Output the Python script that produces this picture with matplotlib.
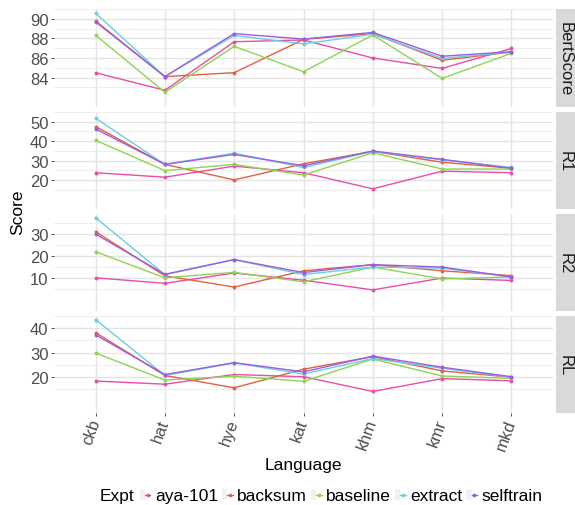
import matplotlib
matplotlib.use("Agg")
import matplotlib.pyplot as plt
from matplotlib.lines import Line2D
from matplotlib.patches import Patch
from matplotlib.legend_handler import HandlerTuple
import numpy as np

plt.rcParams['font.family'] = ['Liberation Sans', 'DejaVu Sans']

langs = ['ckb', 'hat', 'hye', 'kat', 'khm', 'kmr', 'mkd']
expts = ['aya-101', 'backsum', 'baseline', 'extract', 'selftrain']
colors = ['#E84EA6', '#E2603F', '#8ED452', '#6ACDE0', '#9B5DE3']
metrics = ['BertScore', 'R1', 'R2', 'RL']

bertscore = {
    'aya-101':   [84.5, 82.7, 87.66, 87.84, 86.0, 84.94, 86.97],
    'backsum':   [89.78, 84.1, 84.5, 87.9, 88.5, 85.77, 86.6],
    'baseline':  [88.33, 82.5, 87.19, 84.6, 88.35, 83.92, 86.48],
    'extract':   [90.58, 84.1, 88.3, 87.44, 88.43, 85.96, 86.6],
    'selftrain': [89.69, 84.1, 88.49, 87.93, 88.61, 86.18, 86.64],
}
r1 = {
    'aya-101':   [23.7, 21.4, 27.1, 23.7, 15.4, 24.5, 23.7],
    'backsum':   [47.5, 28.0, 20.0, 28.3, 34.7, 29.1, 26.0],
    'baseline':  [40.4, 24.8, 28.0, 22.5, 34.0, 25.6, 25.6],
    'extract':   [51.8, 28.0, 33.8, 26.4, 34.7, 30.3, 26.4],
    'selftrain': [46.3, 28.0, 33.1, 27.3, 34.9, 30.6, 26.0],
}
r2 = {
    'aya-101':   [10.1, 7.6, 12.3, 9.0, 4.6, 10.0, 8.9],
    'backsum':   [31.1, 11.0, 5.9, 13.3, 16.1, 13.3, 11.1],
    'baseline':  [22.0, 10.1, 12.6, 8.25, 15.0, 9.6, 10.5],
    'extract':   [37.5, 11.5, 18.4, 11.6, 15.0, 14.5, 10.5],
    'selftrain': [30.0, 11.7, 18.4, 12.5, 16.1, 15.0, 10.5],
}
rl = {
    'aya-101':   [18.2, 16.9, 20.9, 20.0, 13.9, 19.2, 18.3],
    'backsum':   [38.2, 20.5, 15.4, 23.1, 28.3, 22.4, 19.8],
    'baseline':  [29.8, 18.6, 20.2, 18.1, 27.3, 20.3, 19.3],
    'extract':   [43.6, 20.5, 25.7, 21.1, 27.5, 23.5, 19.8],
    'selftrain': [37.3, 20.9, 25.8, 22.0, 28.5, 23.9, 20.0],
}
data = [bertscore, r1, r2, rl]
major_ticks = [[84, 86, 88, 90], [20, 30, 40, 50], [10, 20, 30], [20, 30, 40]]

W, H = 575, 506
fig = plt.figure(figsize=(W / 100, H / 100), dpi=100)

# panel extents in pixels (top, bottom)
panel_rows = [(10, 108), (113, 210), (215, 312), (317, 414)]
left_px, right_px = 54, 553
strip_l = 556

x = np.arange(len(langs))
for i, (top, bot) in enumerate(panel_rows):
    ax = fig.add_axes([left_px / W, 1 - bot / H, (right_px - left_px) / W, (bot - top) / H])
    d = data[i]
    for e, c in zip(expts, colors):
        ax.plot(x, d[e], color=c, lw=1.0, marker='o', ms=2.8, mew=0)
    vals = np.concatenate([d[e] for e in expts])
    lo, hi = vals.min(), vals.max()
    pad = (hi - lo) * 0.05
    ax.set_ylim(lo - pad, hi + pad)
    ax.set_xlim(-0.6, len(langs) - 0.4)

    mt = major_ticks[i]
    step = mt[1] - mt[0]
    ax.set_yticks(mt)
    ax.set_yticks(np.arange(mt[0] - step * 1.5, mt[-1] + step, step), minor=True)
    ax.set_xticks(x)
    ax.grid(which='major', color='#E4E4E4', lw=1.0)
    ax.grid(which='minor', axis='y', color='#EBEBEB', lw=0.6)
    ax.set_axisbelow(True)
    for s in ax.spines.values():
        s.set_visible(False)
    ax.tick_params(axis='y', which='major', length=2.5, width=0.6, color='#333333',
                   labelsize=12, labelcolor='#4D4D4D', pad=1.5)
    ax.tick_params(which='minor', length=0)
    if i < 3:
        ax.tick_params(axis='x', length=0, labelbottom=False)
    else:
        ax.tick_params(axis='x', length=2.5, width=0.6, color='#333333',
                       labelsize=12, labelcolor='#4D4D4D', pad=2)
        ax.set_xticklabels(langs, rotation=70, ha='right', va='center',
                           rotation_mode='anchor')

    sax = fig.add_axes([strip_l / W, 1 - bot / H, (W - strip_l) / W, (bot - top) / H])
    sax.set_facecolor('#D9D9D9')
    sax.set_xticks([])
    sax.set_yticks([])
    for s in sax.spines.values():
        s.set_visible(False)
    sax.text(0.47, 0.5, metrics[i], rotation=-90, ha='center', va='center',
             fontsize=12, color='#1A1A1A', transform=sax.transAxes)

fig.text(18 / W, 1 - 212 / H, 'Score', rotation=90, ha='center', va='center', fontsize=12.5)
fig.text((left_px + right_px) / 2 / W, 1 - 466 / H, 'Language', ha='center', va='center',
         fontsize=12.5)

fig.text(100 / W, 1 - 497 / H, 'Expt', ha='left', va='center', fontsize=12.5)
handles = [(Patch(facecolor='#F2F2F2', edgecolor='none'),
            Line2D([], [], color=c, lw=1.0, marker='o', ms=2.6, mew=0)) for c in colors]
fig.legend(handles, expts, loc='center left', bbox_to_anchor=(140 / W, 1 - 497 / H),
           ncol=5, frameon=False, fontsize=12.5, handlelength=0.6, handleheight=0.6,
           handletextpad=0.25, columnspacing=0.25, borderpad=0, borderaxespad=0,
           handler_map={tuple: HandlerTuple(ndivide=None)})

fig.savefig('out.png', dpi=100)
